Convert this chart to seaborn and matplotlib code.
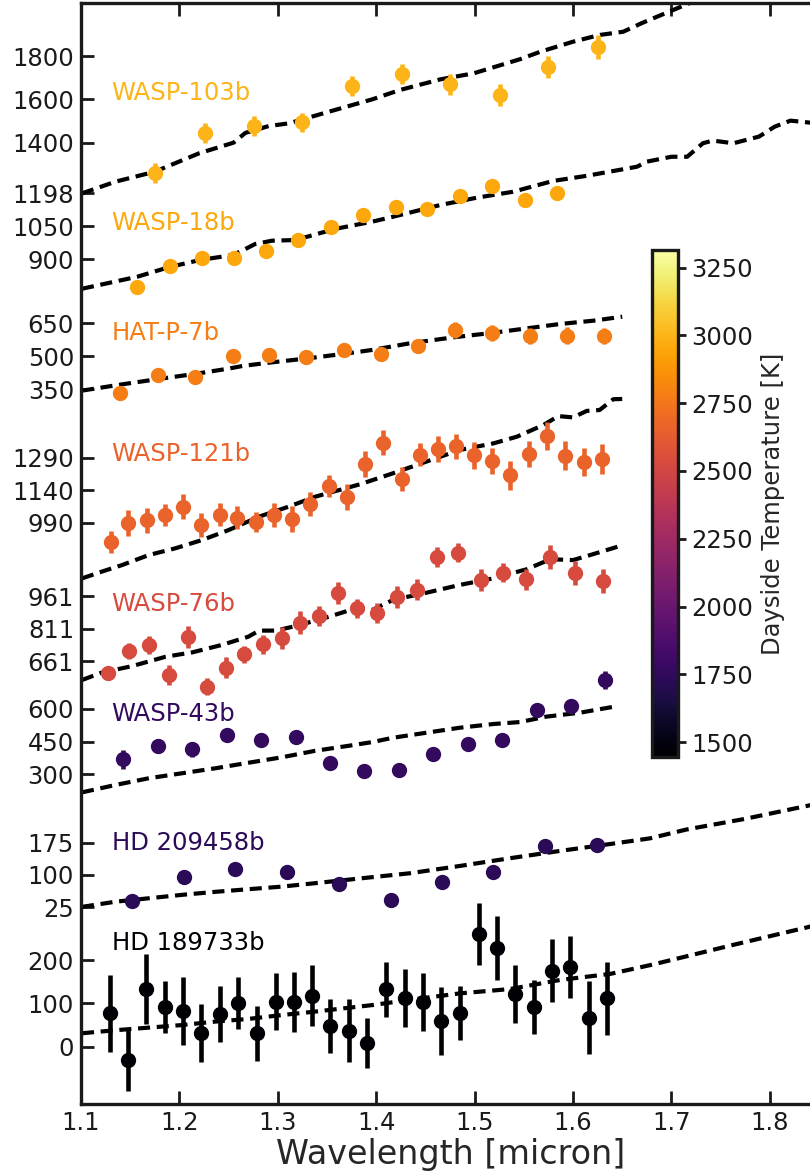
import numpy as np
import matplotlib
matplotlib.use('Agg')
import matplotlib.pyplot as plt
import seaborn as sns

# planet order from top to bottom
planets = ['WASP-103b', 'WASP-18b', 'HAT-P-7b', 'WASP-121b',
           'WASP-76b', 'WASP-43b', 'HD 209458b', 'HD 189733b']
t_day = [3000, 2950, 2780, 2660, 2530, 1763, 1725, 1450]

# per-planet y tick values (planet units)
ticks = [[1400, 1600, 1800], [900, 1050, 1198], [350, 500, 650], [990, 1140, 1290],
         [661, 811, 961], [300, 450, 600], [25, 100, 175], [0, 100, 200]]

# ---- observed spectra ----
w103_wl = [1.175, 1.226, 1.276, 1.325, 1.375, 1.426, 1.475, 1.526, 1.575, 1.625]
w103_fp = [1259, 1446, 1477, 1494, 1662, 1718, 1669, 1621, 1749, 1843]
w103_err = [46, 46, 46, 44, 47, 47, 50, 50, 52, 55]

w18_wl = [1.157, 1.190, 1.223, 1.255, 1.288, 1.321, 1.354, 1.387, 1.420, 1.452,
          1.485, 1.518, 1.551, 1.584]
w18_fp = [776, 871, 906, 907, 939, 986, 1047, 1102, 1135, 1126, 1184, 1231, 1166, 1199]
w18_err = [12] * 14

hat7_wl = [1.140, 1.178, 1.216, 1.254, 1.291, 1.329, 1.367, 1.405, 1.442, 1.480,
           1.518, 1.556, 1.594, 1.631]
hat7_fp = [335, 414, 405, 501, 505, 495, 529, 510, 545, 620, 606, 592, 594, 592]
hat7_err = [20, 22, 22, 22, 22, 24, 26, 26, 28, 36, 36, 36, 38, 38]

w121_wl = [1.130, 1.148, 1.167, 1.185, 1.204, 1.222, 1.241, 1.259, 1.278, 1.296,
           1.314, 1.333, 1.352, 1.370, 1.389, 1.407, 1.426, 1.444, 1.463, 1.481,
           1.499, 1.518, 1.536, 1.555, 1.574, 1.592, 1.611, 1.629]
w121_fp = [900, 989, 1002, 1026, 1064, 979, 1027, 1013, 993, 1026, 1007, 1076, 1159,
           1109, 1261, 1359, 1192, 1304, 1330, 1343, 1302, 1275, 1209, 1306, 1389,
           1299, 1269, 1285]
w121_err = [52, 60, 58, 50, 58, 57, 52, 54, 48, 54, 58, 55, 50, 60, 58, 58, 56, 52,
            62, 57, 62, 62, 66, 61, 65, 68, 64, 68]

w76_wl = [1.127, 1.149, 1.169, 1.189, 1.209, 1.228, 1.247, 1.266, 1.285, 1.304,
          1.323, 1.342, 1.361, 1.380, 1.401, 1.421, 1.441, 1.462, 1.483, 1.506,
          1.529, 1.552, 1.577, 1.602, 1.630]
w76_fp = [606, 708, 736, 598, 771, 544, 632, 693, 740, 769, 838, 869, 976, 904, 882,
          955, 989, 1139, 1160, 1035, 1068, 1038, 1139, 1068, 1031]
w76_err = [31, 38, 40, 46, 51, 38, 50, 38, 44, 50, 52, 48, 50, 44, 46, 50, 48, 46,
           44, 49, 44, 48, 54, 56, 54]

w43_wl = [1.143, 1.178, 1.213, 1.248, 1.283, 1.318, 1.353, 1.388, 1.423, 1.458,
          1.493, 1.528, 1.563, 1.598, 1.633]
w43_fp = [369, 430, 415, 482, 458, 473, 353, 314, 321, 395, 439, 459, 597, 615, 733]
w43_err = [44, 34, 34, 30, 28, 28, 25, 25, 25, 25, 25, 25, 28, 30, 42]

hd209_wl = [1.152, 1.205, 1.257, 1.309, 1.362, 1.415, 1.467, 1.519, 1.572, 1.624]
hd209_fp = [40, 95, 113, 108, 79, 41, 84, 106, 167, 169]
hd209_err = [8] * 10

hd189_wl = [1.129, 1.148, 1.166, 1.185, 1.204, 1.222, 1.241, 1.260, 1.279, 1.298,
            1.316, 1.335, 1.353, 1.372, 1.391, 1.410, 1.429, 1.448, 1.466, 1.485,
            1.504, 1.523, 1.541, 1.560, 1.579, 1.597, 1.616, 1.635]
hd189_fp = [77, -31, 133, 91, 82, 32, 75, 100, 31, 104, 104, 118, 48, 37, 8, 132, 113,
            103, 59, 78, 260, 228, 122, 92, 175, 184, 67, 112]
hd189_err = [89, 71, 80, 60, 78, 67, 65, 60, 63, 66, 69, 70, 62, 72, 58, 64, 67, 66,
             78, 63, 72, 73, 67, 63, 73, 71, 85, 84]

# ---- models ----
m103_wl = [1.101, 1.135, 1.175, 1.220, 1.255, 1.267, 1.291, 1.311, 1.352, 1.396,
           1.424, 1.465, 1.499, 1.546, 1.567, 1.600, 1.627, 1.651, 1.671, 1.719]
m103_fp = [1166, 1220, 1266, 1351, 1400, 1445, 1477, 1489, 1543, 1600, 1643, 1692,
           1720, 1785, 1820, 1866, 1897, 1912, 1954, 2045]

m18_wl = [1.101, 1.157, 1.189, 1.221, 1.254, 1.265, 1.277, 1.294, 1.318, 1.358,
          1.396, 1.417, 1.465, 1.502, 1.539, 1.580, 1.614, 1.665, 1.675, 1.700,
          1.716, 1.732, 1.742, 1.763, 1.789, 1.805, 1.821, 1.841, 1.860]
m18_fp = [767, 821, 864, 897, 919, 942, 969, 984, 987, 1037, 1070, 1092, 1145, 1178,
          1205, 1254, 1277, 1318, 1341, 1363, 1363, 1424, 1436, 1424, 1454, 1499,
          1526, 1517, 1510]

mhat7_wl = [1.101, 1.138, 1.179, 1.216, 1.250, 1.264, 1.291, 1.331, 1.372, 1.396,
            1.434, 1.478, 1.519, 1.553, 1.587, 1.621, 1.650]
mhat7_fp = [344, 370, 397, 420, 444, 456, 471, 491, 514, 529, 559, 586, 607, 627,
            647, 662, 680]

m121_wl = [1.101, 1.121, 1.142, 1.169, 1.196, 1.223, 1.250, 1.281, 1.311, 1.338,
           1.369, 1.384, 1.417, 1.451, 1.485, 1.519, 1.543, 1.570, 1.585, 1.600,
           1.614, 1.627, 1.641, 1.650]
m121_fp = [733, 764, 795, 841, 872, 910, 956, 1018, 1064, 1110, 1149, 1168, 1218,
           1272, 1326, 1356, 1387, 1441, 1482, 1476, 1506, 1510, 1560, 1561]

m76_wl = [1.101, 1.121, 1.152, 1.186, 1.213, 1.243, 1.270, 1.281, 1.298, 1.321,
          1.352, 1.379, 1.396, 1.417, 1.451, 1.485, 1.519, 1.553, 1.577, 1.600,
          1.621, 1.648]
m76_fp = [575, 609, 639, 682, 702, 736, 774, 802, 802, 826, 866, 904, 897, 943, 976,
          1012, 1042, 1084, 1130, 1126, 1154, 1191]

m43_wl = [1.101, 1.135, 1.169, 1.203, 1.237, 1.270, 1.304, 1.338, 1.372, 1.396,
          1.417, 1.451, 1.485, 1.519, 1.546, 1.573, 1.607, 1.646]
m43_fp = [217, 251, 282, 305, 328, 353, 378, 408, 431, 448, 468, 491, 514, 531, 540,
          565, 583, 614]

m209_wl = [1.101, 1.135, 1.169, 1.203, 1.237, 1.270, 1.304, 1.338, 1.396, 1.434,
           1.485, 1.536, 1.587, 1.638, 1.678, 1.716, 1.774, 1.841, 1.860]
m209_fp = [26, 38, 46, 54, 61, 67, 73, 81, 95, 104, 121, 139, 156, 172, 185, 206,
           230, 262, 270]

m189_wl = [1.101, 1.135, 1.169, 1.203, 1.237, 1.270, 1.304, 1.338, 1.396, 1.434,
           1.485, 1.536, 1.587, 1.638, 1.678, 1.700, 1.763, 1.841, 1.860]
m189_fp = [31, 38, 44, 50, 58, 64, 73, 81, 96, 108, 123, 133, 154, 168, 188, 200,
           235, 277, 287]

obs = [(w103_wl, w103_fp, w103_err), (w18_wl, w18_fp, w18_err),
       (hat7_wl, hat7_fp, hat7_err), (w121_wl, w121_fp, w121_err),
       (w76_wl, w76_fp, w76_err), (w43_wl, w43_fp, w43_err),
       (hd209_wl, hd209_fp, hd209_err), (hd189_wl, hd189_fp, hd189_err)]
models = [(m103_wl, m103_fp), (m18_wl, m18_fp), (mhat7_wl, mhat7_fp),
          (m121_wl, m121_fp), (m76_wl, m76_fp), (m43_wl, m43_fp),
          (m209_wl, m209_fp), (m189_wl, m189_fp)]

# stacking layout: reference value, where it sits on the shared axis, units per step
ref_val = [1800, 1198, 650, 1290, 961, 600, 175, 200]
ref_pos = [1048, 910.7, 780.7, 646.3, 508, 395, 261.3, 144]
scale = [4.615, 4.515, 4.545, 4.615, 4.594, 4.594, 2.322, 2.307]
label_pos = [1011, 881, 771, 650, 500, 390, 261, 161]


def to_axis(v, i):
    return ref_pos[i] + (np.asarray(v, dtype=float) - ref_val[i]) / scale[i]


sns.set_theme(style='ticks')
plt.rcParams['font.family'] = ['DejaVu Sans']

cmap = sns.color_palette('inferno', as_cmap=True)
norm = plt.Normalize(1445, 3315)

fig = plt.figure(figsize=(8.1, 11.75), dpi=100)
ax = fig.add_axes([81 / 810, 71 / 1175, 740 / 810, 1101 / 1175])

ytick_pos, ytick_lab = [], []
for i, name in enumerate(planets):
    c = cmap(norm(t_day[i]))
    mwl, mfp = models[i]
    sns.lineplot(x=mwl, y=to_axis(mfp, i), ax=ax, color='black', lw=3.0,
                 dashes=False, zorder=2).lines[-1].set_dashes((2.9, 1.6))
    wl, fp, err = obs[i]
    ax.errorbar(wl, to_axis(fp, i), yerr=np.asarray(err) / scale[i], fmt='o',
                color=c, mec=c, ms=10, elinewidth=3.3, capsize=0, zorder=3)
    ax.text(1.131, label_pos[i], name, color=c, fontsize=17.5, va='center',
            ha='left')
    for t in ticks[i]:
        ytick_pos.append(float(to_axis(t, i)))
        ytick_lab.append(str(t))

ax.set_xlim(1.1, 1.852)
ax.set_ylim(0, 1101)
ax.set_xticks([1.1, 1.2, 1.3, 1.4, 1.5, 1.6, 1.7, 1.8])
ax.set_xticklabels(['1.1', '1.2', '1.3', '1.4', '1.5', '1.6', '1.7', '1.8'])
ax.set_yticks(ytick_pos)
ax.set_yticklabels(ytick_lab)
ax.tick_params(axis='both', direction='in', length=9.5, width=2, labelsize=17.5,
               top=True, right=False, pad=5, colors='k')
for side in ['left', 'bottom', 'top']:
    ax.spines[side].set_linewidth(2.4)
    ax.spines[side].set_color('k')
ax.spines['right'].set_visible(False)
ax.set_xlabel('Wavelength [micron]', fontsize=24, labelpad=2)

cax = fig.add_axes([652 / 810, (1175 - 757) / 1175, 26 / 810, 507 / 1175])
sm = plt.cm.ScalarMappable(norm=norm, cmap=cmap)
cb = fig.colorbar(sm, cax=cax)
cb.set_ticks([1500, 1750, 2000, 2250, 2500, 2750, 3000, 3250])
cb.outline.set_linewidth(2.4)
cb.outline.set_edgecolor('k')
cax.tick_params(direction='out', length=6, width=2, labelsize=17.5, colors='k')
cb.set_label('Dayside Temperature [K]', fontsize=17.5, labelpad=6)

fig.savefig('out.png', dpi=100)
